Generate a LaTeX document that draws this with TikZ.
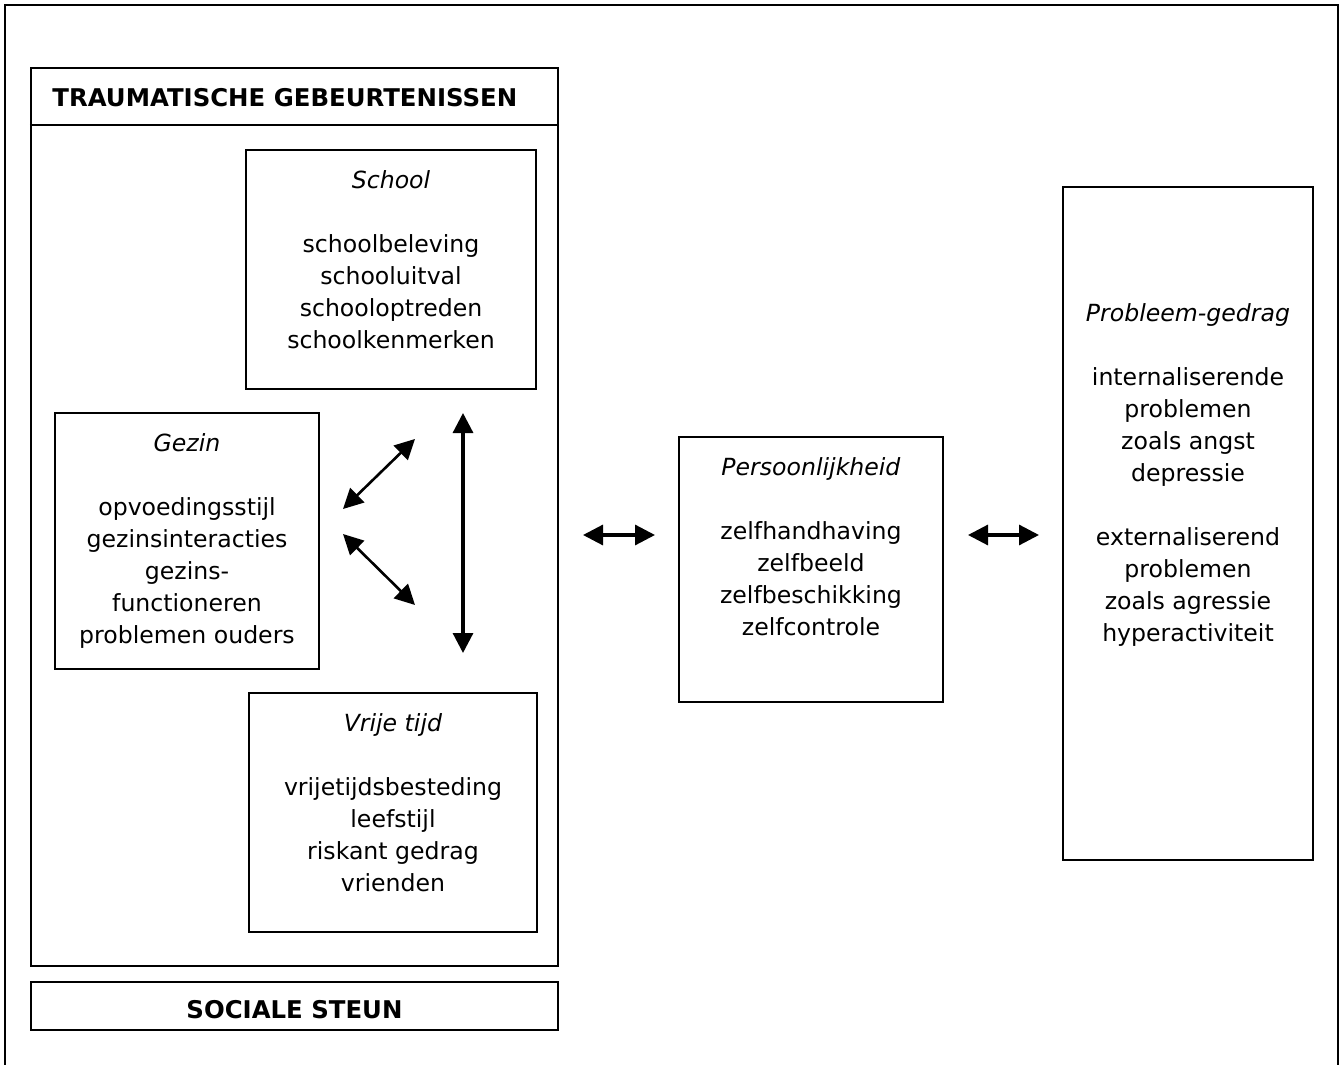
\documentclass[tikz,border=0pt]{standalone}
\usepackage{fontspec}
\setmainfont{DejaVu Sans}
\usetikzlibrary{arrows.meta, positioning}

\tikzset{
  box/.style={draw, line width=1.1pt, rectangle, inner sep=0pt},
  txt/.style={align=center, inner sep=0pt, anchor=north, font=\fontsize{11.8pt}{16pt}\selectfont},
  hdr/.style={inner sep=0pt, font=\fontsize{12.2pt}{16pt}\selectfont\bfseries},
  arr/.style={<->, line width=1.6pt},
}

\begin{document}
\begin{tikzpicture}[x=0.5pt, y=-0.5pt, >={Triangle[length=10pt,width=10pt]}]
    \useasboundingbox (0,0) rectangle (1341,1065);

    % frame, open at the bottom
    \draw[line width=1.4pt] (5,1065) -- (5,5) -- (1338,5) -- (1338,1065);

    % left block
    \node[box, minimum width=263.5pt, minimum height=449pt] (trauma) at (294.5,517) {};
    \draw[line width=1.1pt] (trauma.west |- 0,125) -- (trauma.east |- 0,125);
    \node[hdr, anchor=west] (traumatxt) at (52,98) {TRAUMATISCHE GEBEURTENISSEN};

    \node[box, minimum width=263.5pt, minimum height=24pt] (steun) at (294.5,1006) {};
    \node[hdr] (steuntxt) at (294.5,1010) {SOCIALE STEUN};

    \node[box, minimum width=145pt, minimum height=119.5pt] (school) at (391,269.5) {};
    \node[txt] (schooltxt) at (391,170) {\textit{School}\\[16pt]schoolbeleving\\schooluitval\\schooloptreden\\schoolkenmerken};

    \node[box, minimum width=132pt, minimum height=128pt] (gezin) at (187,541) {};
    \node[txt] (gezintxt) at (187,433) {\textit{Gezin}\\[16pt]opvoedingsstijl\\gezinsinteracties\\gezins-\\functioneren\\problemen ouders};

    \node[box, minimum width=144pt, minimum height=119.5pt] (vrij) at (393,812.5) {};
    \node[txt] (vrijtxt) at (393,713) {\textit{Vrije tijd}\\[16pt]vrijetijdsbesteding\\leefstijl\\riskant gedrag\\vrienden};

    % middle and right
    \node[box, minimum width=132pt, minimum height=132.5pt] (pers) at (811,569.5) {};
    \node[txt] (perstxt) at (811,457) {\textit{Persoonlijkheid}\\[16pt]zelfhandhaving\\zelfbeeld\\zelfbeschikking\\zelfcontrole};

    \node[box, minimum width=125pt, minimum height=336.5pt] (gedrag) at (1188,523.5) {};
    \node[txt] (gedragtxt) at (1188,303) {\textit{Probleem-gedrag}\\[16pt]internaliserende\\problemen\\zoals angst\\depressie\\[16pt]externaliserend\\problemen\\zoals agressie\\hyperactiviteit};

    % arrows
    \coordinate (d1a) at (343,509);
    \coordinate (d1b) at (415,439);
    \coordinate (d2a) at (343,534);
    \coordinate (d2b) at (415,605);
    \coordinate (v1) at (463,413);
    \coordinate (v2) at (463,653);
    \coordinate (h1a) at (583,535);
    \coordinate (h1b) at (655,535);
    \coordinate (h2a) at (968,535);
    \coordinate (h2b) at (1039,535);

    \draw[arr, line width=1.3pt] (d1a) -- (d1b);
    \draw[arr, line width=1.3pt] (d2a) -- (d2b);
    \draw[arr] (v1) -- (v2);
    \draw[arr] (h1a) -- (h1b);
    \draw[arr] (h2a) -- (h2b);
\end{tikzpicture}
\end{document}
